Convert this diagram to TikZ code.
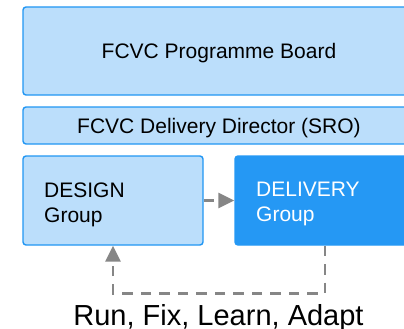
\documentclass[tikz,border=0pt]{standalone}
\usepackage{fontspec}
\setmainfont{Liberation Sans}
\usetikzlibrary{arrows.meta}
\definecolor{lightfill}{HTML}{BBDEFB}
\definecolor{boxline}{HTML}{2196F3}
\definecolor{darkfill}{HTML}{2598F4}
\definecolor{arrowgray}{HTML}{868686}
\tikzset{
  x=1pt, y=1pt,
  lightbox/.style={draw=boxline, fill=lightfill, line width=1.4pt, rounded corners=3pt, inner sep=0pt},
  darkbox/.style={draw=darkfill, fill=darkfill, line width=1.4pt, rounded corners=3pt, inner sep=0pt},
  boxtext/.style={inner sep=0pt, font=\fontsize{21}{25}\selectfont},
  flowarrow/.style={draw=arrowgray, line width=2.7pt, dash pattern=on 10.5pt off 8pt,
    -{Triangle[length=16pt,width=15pt,fill=arrowgray]}},
}
\begin{document}
\begin{tikzpicture}
\useasboundingbox (0,0) rectangle (404,-329);
\clip (0,0) rectangle (404,-329);
% boxes
\node[lightbox, minimum width=392pt, minimum height=88pt] (board) at (219,-51) {};
\node[lightbox, minimum width=392pt, minimum height=37pt] (director) at (219,-125.5) {};
\node[lightbox, minimum width=180pt, minimum height=89pt] (design) at (113,-200.5) {};
\node[darkbox, minimum width=180pt, minimum height=89pt] (delivery) at (325,-200.5) {};
% texts
\node[boxtext, anchor=base] (boardtxt) at (219,-59) {FCVC Programme Board};
\node[boxtext, anchor=base] (directortxt) at (219,-133) {FCVC Delivery Director (SRO)};
\node[boxtext, anchor=base west] (designtxtA) at (44,-197) {DESIGN};
\node[boxtext, anchor=base west] (designtxtB) at (44,-222) {Group};
\node[boxtext, anchor=base west, text=white] (deliverytxtA) at (256,-196) {DELIVERY};
\node[boxtext, anchor=base west, text=white] (deliverytxtB) at (256,-221) {Group};
% connectors
\draw[flowarrow] (design.east) -- (delivery.west);
\draw[flowarrow] (delivery.south) -- ++(0,-48) -| (design.south);
% label
\node[inner sep=0pt, anchor=base, font=\fontsize{29}{34}\selectfont] (looplabel) at (218.5,-325) {Run, Fix, Learn, Adapt};
\end{tikzpicture}
\end{document}
